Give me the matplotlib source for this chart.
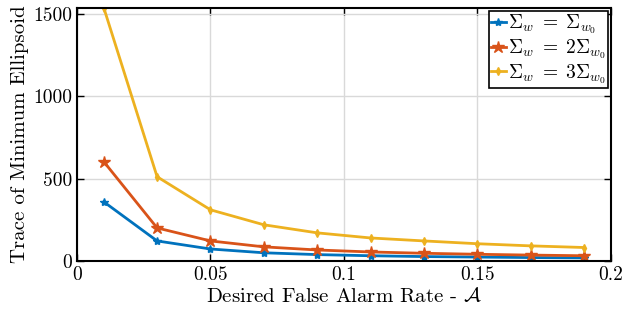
import matplotlib
matplotlib.use("Agg")
import matplotlib.pyplot as plt
import numpy as np

plt.rcParams['font.family'] = 'serif'
plt.rcParams['font.serif'] = ['cmr10']
plt.rcParams['mathtext.fontset'] = 'cm'
plt.rcParams['axes.formatter.use_mathtext'] = True

false_alarm = [0.01, 0.03, 0.05, 0.07, 0.09, 0.11, 0.13, 0.15, 0.17, 0.19]
trace_1 = [360, 122, 73, 50, 39, 32, 27, 24, 21, 19]
trace_2 = [604, 201, 122, 86, 67, 55, 47, 41, 36, 32]
trace_3 = [1540, 512, 311, 220, 171, 140, 122, 105, 92, 82]
labels = [r'$\Sigma_w\;=\;\Sigma_{w_0}$', r'$\Sigma_w\;=\;2\Sigma_{w_0}$', r'$\Sigma_w\;=\;3\Sigma_{w_0}$']

fig = plt.figure(figsize=(6.23, 3.16), dpi=100)
ax = fig.add_axes([0.1236, 0.174, 0.8571, 0.8007])

ax.plot(false_alarm, trace_1, color='#0072BD', marker='*', markersize=6, lw=2, label=labels[0])
ax.plot(false_alarm, trace_2, color='#D95319', marker='*', markersize=9, lw=2, label=labels[1])
ax.plot(false_alarm, trace_3, color='#EDB120', marker='d', markersize=4, lw=2, label=labels[2])

ax.set_xlim(0, 0.2)
ax.set_ylim(0, 1537)
ax.set_xticks([0, 0.05, 0.1, 0.15, 0.2])
ax.set_xticklabels(['0', '0.05', '0.1', '0.15', '0.2'])
ax.set_yticks([0, 500, 1000, 1500])
ax.set_yticklabels(['0', '500', '1000', '1500'])
ax.tick_params(direction='in', top=True, right=True, labelsize=14, length=5, width=1)
ax.grid(True, color='#d9d9d9', lw=1)
for s in ax.spines.values():
    s.set_linewidth(1.5)

ax.set_xlabel(r'Desired False Alarm Rate - $\mathcal{A}$', fontsize=15, labelpad=2)
ax.set_ylabel('Trace of Minimum Ellipsoid', fontsize=15, labelpad=3)

leg = ax.legend(loc='upper right', fontsize=14, handlelength=0.8, handletextpad=0.1,
                borderpad=0.1, labelspacing=0.05, fancybox=False, framealpha=1,
                borderaxespad=0.15)
leg.get_frame().set_edgecolor('black')
leg.get_frame().set_linewidth(1.2)

fig.savefig('out.png', dpi=100)
